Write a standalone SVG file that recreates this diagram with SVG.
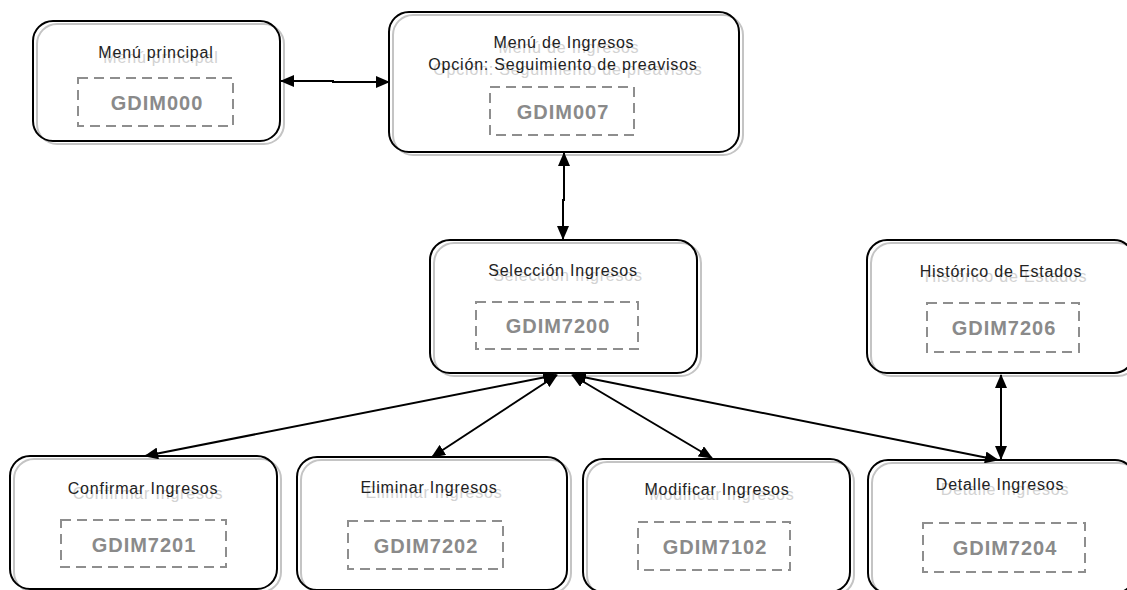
<svg xmlns="http://www.w3.org/2000/svg" width="1127" height="590" viewBox="0 0 1127 590">
<style>
.sh{fill:#fff;stroke:#c4c4c4;stroke-width:2}
.bx{fill:none;stroke:#000;stroke-width:2}
.dash{fill:none;stroke:#8e8e8e;stroke-width:2;stroke-dasharray:10 6}
.lbl{font-family:"Liberation Sans",Arial,sans-serif;font-size:16px;letter-spacing:0.8px;fill:#222;text-anchor:middle}
.lsh{font-family:"Liberation Sans",Arial,sans-serif;font-size:16px;letter-spacing:0.8px;fill:#d2d2d2;text-anchor:middle}
.code{font-family:"Liberation Sans",Arial,sans-serif;font-size:20px;font-weight:bold;letter-spacing:1px;fill:#8a8a8a;text-anchor:middle}
.conn{fill:none;stroke:#000;stroke-width:2}
</style>
<defs>
<marker id="arr" markerUnits="userSpaceOnUse" markerWidth="14" markerHeight="12" viewBox="0 0 14 12" refX="13" refY="6" orient="auto-start-reverse">
<path d="M0,0 L14,6 L0,12 z" fill="#000"/>
</marker>
</defs>
<rect width="1127" height="590" fill="#fff"/>

<g id="n-menu-principal">
<rect class="sh" x="37" y="24" width="247" height="120" rx="20"/>
<rect class="bx" x="33" y="21" width="247" height="120" rx="20"/>
<text class="lsh" x="161" y="63">Menú principal</text>
<text class="lbl" x="156" y="58">Menú principal</text>
<rect class="dash" x="78" y="78" width="155" height="48"/>
<text class="code" x="157" y="110">GDIM000</text>
</g>

<g id="n-menu-ingresos">
<rect class="sh" x="393" y="15" width="350" height="140" rx="20"/>
<rect class="bx" x="389" y="12" width="350" height="140" rx="20"/>
<text class="lsh" x="569" y="53">Menú de Ingresos</text>
<text class="lsh" x="568" y="75">Opción: Seguimiento de preavisos</text>
<text class="lbl" x="564" y="48">Menú de Ingresos</text>
<text class="lbl" x="563" y="70">Opción: Seguimiento de preavisos</text>
<rect class="dash" x="490" y="87" width="144" height="48"/>
<text class="code" x="563" y="119">GDIM007</text>
</g>

<g id="n-seleccion">
<rect class="sh" x="434" y="243" width="267" height="133" rx="20"/>
<rect class="bx" x="430" y="240" width="267" height="133" rx="20"/>
<text class="lsh" x="568" y="281">Selección Ingresos</text>
<text class="lbl" x="563" y="276">Selección Ingresos</text>
<rect class="dash" x="476" y="302" width="162" height="47"/>
<text class="code" x="558" y="333">GDIM7200</text>
</g>

<g id="n-historico">
<rect class="sh" x="871" y="243" width="267" height="133" rx="20"/>
<rect class="bx" x="867" y="240" width="267" height="133" rx="20"/>
<text class="lsh" x="1006" y="282">Histórico de Estados</text>
<text class="lbl" x="1001" y="277">Histórico de Estados</text>
<rect class="dash" x="927" y="303" width="152" height="49"/>
<text class="code" x="1004" y="335">GDIM7206</text>
</g>

<g id="n-confirmar">
<rect class="sh" x="14" y="459" width="267" height="133" rx="20"/>
<rect class="bx" x="10" y="456" width="267" height="133" rx="20"/>
<text class="lsh" x="148" y="499">Confirmar Ingresos</text>
<text class="lbl" x="143" y="494">Confirmar Ingresos</text>
<rect class="dash" x="61" y="520" width="165" height="47"/>
<text class="code" x="144" y="552">GDIM7201</text>
</g>

<g id="n-eliminar">
<rect class="sh" x="301" y="460" width="270" height="133" rx="20"/>
<rect class="bx" x="297" y="457" width="270" height="133" rx="20"/>
<text class="lsh" x="434" y="498">Eliminar Ingresos</text>
<text class="lbl" x="429" y="493">Eliminar Ingresos</text>
<rect class="dash" x="348" y="521" width="155" height="48"/>
<text class="code" x="426" y="553">GDIM7202</text>
</g>

<g id="n-modificar">
<rect class="sh" x="587" y="462" width="267" height="133" rx="20"/>
<rect class="bx" x="583" y="459" width="267" height="133" rx="20"/>
<text class="lsh" x="722" y="500">Modificar Ingresos</text>
<text class="lbl" x="717" y="495">Modificar Ingresos</text>
<rect class="dash" x="638" y="522" width="152" height="48"/>
<text class="code" x="715" y="554">GDIM7102</text>
</g>

<g id="n-detalle">
<rect class="sh" x="872" y="463" width="267" height="133" rx="20"/>
<rect class="bx" x="868" y="460" width="267" height="133" rx="20"/>
<text class="lsh" x="1005" y="495">Detalle Ingresos</text>
<text class="lbl" x="1000" y="490">Detalle Ingresos</text>
<rect class="dash" x="923" y="523" width="162" height="49"/>
<text class="code" x="1005" y="555">GDIM7204</text>
</g>

<g id="connectors">
<path class="conn" d="M281,81 H333 V82 H389" marker-start="url(#arr)" marker-end="url(#arr)"/>
<path class="conn" d="M564,153 V200 H563 V239" marker-start="url(#arr)" marker-end="url(#arr)"/>
<path class="conn" d="M556,375 L145,456" marker-start="url(#arr)" marker-end="url(#arr)"/>
<path class="conn" d="M557,375 L432,457" marker-start="url(#arr)" marker-end="url(#arr)"/>
<path class="conn" d="M572,375 L712,458" marker-start="url(#arr)" marker-end="url(#arr)"/>
<path class="conn" d="M573,375 L998,460" marker-start="url(#arr)" marker-end="url(#arr)"/>
<path class="conn" d="M1001,375 V459" marker-start="url(#arr)" marker-end="url(#arr)"/>
</g>
</svg>
